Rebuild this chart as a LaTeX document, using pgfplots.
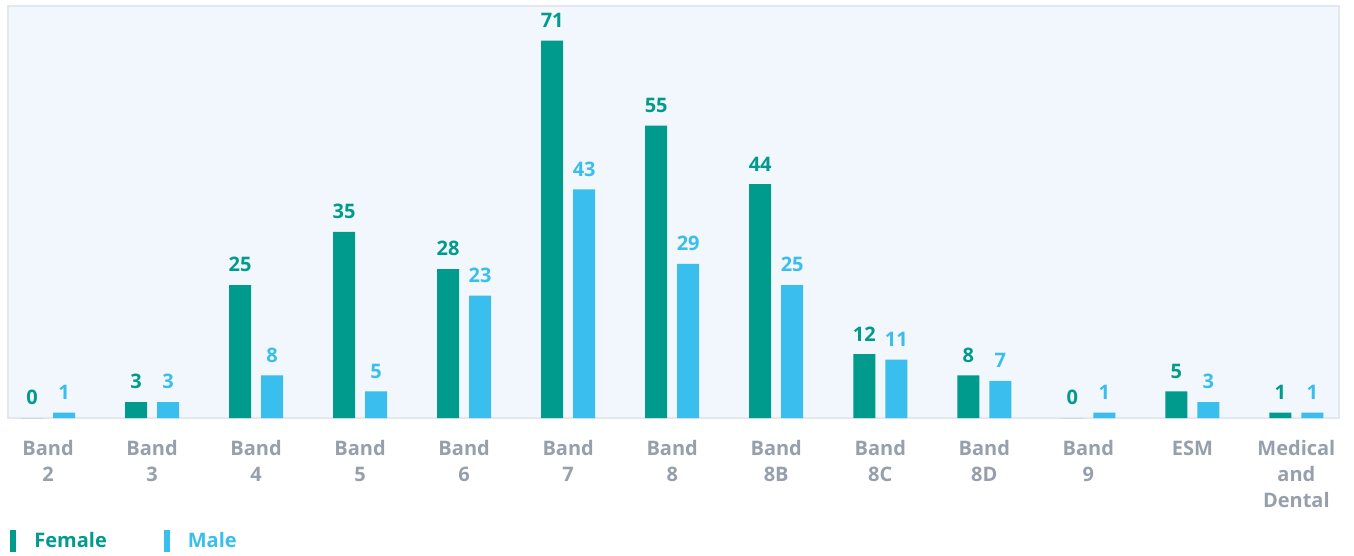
\documentclass[border=0pt]{standalone}
\usepackage{pgfplots}
\pgfplotsset{compat=1.18}
\usepackage{fontspec}
\setmainfont{Open Sans}
\definecolor{teal1}{RGB}{0,155,140}
\definecolor{blue1}{RGB}{58,190,238}
\definecolor{lbl}{RGB}{150,160,172}
\definecolor{bgc}{RGB}{241,247,252}
\definecolor{brd}{RGB}{226,232,238}
\begin{document}
\begin{tikzpicture}[x=1pt,y=1pt]
\path[use as bounding box] (-4,-69) rectangle (673,209);
\begin{axis}[
  at={(0,0)}, anchor=south west,
  scale only axis, width=665.5pt, height=206pt,
  ymin=0, ymax=77.5, xmin=-0.385, xmax=12.41,
  ybar=5pt, bar width=11pt,
  axis background/.style={fill=bgc},
  axis line style={draw=brd, line width=0.6pt},
  ytick=\empty,
  xtick={0,...,12},
  xticklabels={Band\\2,Band\\3,Band\\4,Band\\5,Band\\6,Band\\7,Band\\8,Band\\8B,Band\\8C,Band\\8D,Band\\9,ESM,Medical\\and\\Dental},
  xtick style={draw=none},
  x tick label style={align=center, font=\bfseries\fontsize{10}{13}\selectfont, text=lbl, anchor=north, yshift=-3.5pt},
  /pgf/number format/assume math mode=true,
  nodes near coords,
  nodes near coords style={font=\bfseries\fontsize{10}{12}\selectfont, anchor=south, yshift=3pt},
  legend columns=2,
  legend style={at={(rel axis cs:0,0)}, anchor=west, yshift=-61.5pt, xshift=-2pt, draw=none, fill=none,
    font=\bfseries\fontsize{10}{12}\selectfont, column sep=0pt,
    /tikz/every odd column/.append style={column sep=7pt},
    /tikz/every even column/.append style={column sep=26.5pt}},
  legend image code/.code={\fill[#1] (0pt,-5.5pt) rectangle (3pt,5.5pt);},
]
\addplot[fill=teal1, draw=none, every node near coord/.append style={text=teal1}] coordinates {
(0,0) (1,3) (2,25) (3,35) (4,28) (5,71) (6,55) (7,44) (8,12) (9,8) (10,0) (11,5) (12,1)};
\addlegendentry{\textcolor{teal1}{Female}}
\addplot[fill=blue1, draw=none, every node near coord/.append style={text=blue1}] coordinates {
(0,1) (1,3) (2,8) (3,5) (4,23) (5,43) (6,29) (7,25) (8,11) (9,7) (10,1) (11,3) (12,1)};
\addlegendentry{\textcolor{blue1}{Male}}
\end{axis}
\end{tikzpicture}
\end{document}
